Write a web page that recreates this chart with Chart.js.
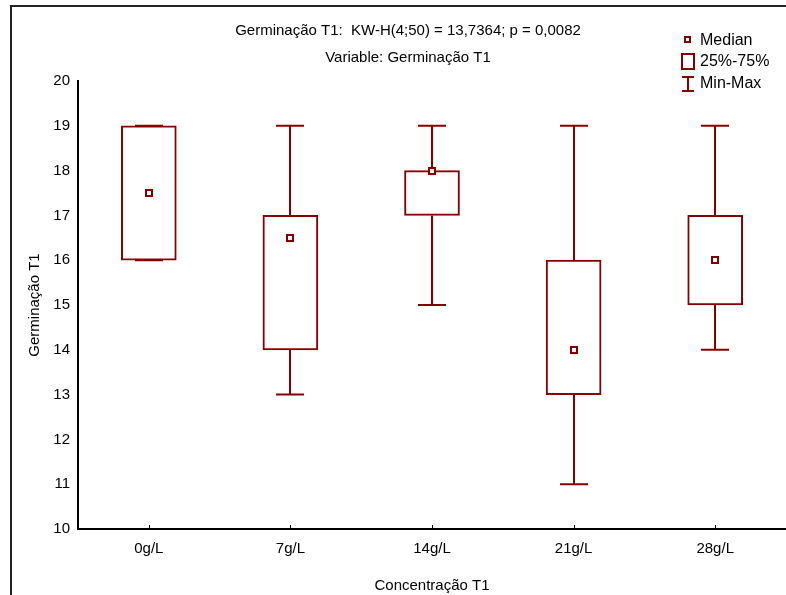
<!DOCTYPE html>
<html>
<head>
<meta charset="utf-8">
<script src="https://cdn.jsdelivr.net/npm/chart.js@4"></script>
<style>
  html, body { margin: 0; padding: 0; background: #fff; }
  #wrap { width: 786px; height: 595px; position: relative; }
</style>
</head>
<body>
<div id="wrap"><canvas id="boxChart" width="786" height="595"></canvas></div>
<script>
// Data
const categories = ['0g/L', '7g/L', '14g/L', '21g/L', '28g/L'];
const minValues = [16, 13, 15, 11, 14];
const q1Values = [16, 14, 17, 13, 15];
const medianValues = [17.5, 16.5, 18, 14, 16];
const q3Values = [19, 17, 18, 16, 17];
const maxValues = [19, 19, 19, 19, 19];

const red = '#850000';
const font = "'Liberation Sans', Arial, sans-serif";

// whiskers, medians, legend, titles and frame
const boxExtras = {
    id: 'boxExtras',
    beforeDatasetsDraw(chart) {
        const { ctx, scales: { x, y } } = chart;
        ctx.save();
        ctx.strokeStyle = red;
        ctx.lineWidth = 2;
        categories.forEach((c, i) => {
            const cx = Math.round(x.getPixelForValue(i));
            const yMin = y.getPixelForValue(minValues[i]);
            const yMax = y.getPixelForValue(maxValues[i]);
            const yQ1 = y.getPixelForValue(q1Values[i]);
            const yQ3 = y.getPixelForValue(q3Values[i]);
            ctx.beginPath();
            ctx.moveTo(cx, yMax); ctx.lineTo(cx, yQ3);
            ctx.moveTo(cx, yQ1); ctx.lineTo(cx, yMin);
            ctx.moveTo(cx - 14, yMax); ctx.lineTo(cx + 14, yMax);
            ctx.moveTo(cx - 14, yMin); ctx.lineTo(cx + 14, yMin);
            ctx.stroke();
        });
        ctx.restore();
    },
    afterDatasetsDraw(chart) {
        const { ctx, scales: { x, y } } = chart;
        ctx.save();
        ctx.strokeStyle = red;
        ctx.fillStyle = '#fff';
        ctx.lineWidth = 2;
        categories.forEach((c, i) => {
            const cx = Math.round(x.getPixelForValue(i));
            const cy = Math.round(y.getPixelForValue(medianValues[i]));
            ctx.fillRect(cx - 3, cy - 3, 6, 6);
            ctx.strokeRect(cx - 3, cy - 3, 6, 6);
        });

        // x tick marks pointing up
        ctx.strokeStyle = '#000';
        ctx.lineWidth = 1;
        categories.forEach((c, i) => {
            const cx = Math.round(x.getPixelForValue(i)) + 0.5;
            ctx.beginPath();
            ctx.moveTo(cx, y.bottom - 4); ctx.lineTo(cx, y.bottom);
            ctx.stroke();
        });

        // titles
        ctx.fillStyle = '#000';
        ctx.font = '15px ' + font;
        ctx.textAlign = 'center';
        ctx.textBaseline = 'middle';
        ctx.fillText('Germinação T1:  KW-H(4;50) = 13,7364; p = 0,0082', 408, 31);
        ctx.fillText('Variable: Germinação T1', 408, 58);

        // legend
        ctx.textAlign = 'left';
        ctx.font = '16px ' + font;
        ctx.fillText('Median', 700, 41);
        ctx.fillText('25%-75%', 700, 62);
        ctx.fillText('Min-Max', 700, 84);
        ctx.strokeStyle = red;
        ctx.lineWidth = 2;
        ctx.strokeRect(685, 37, 5, 5);
        ctx.strokeRect(682, 54, 12, 15);
        ctx.beginPath();
        ctx.moveTo(682, 77); ctx.lineTo(694, 77);
        ctx.moveTo(688, 77); ctx.lineTo(688, 91);
        ctx.moveTo(682, 91); ctx.lineTo(694, 91);
        ctx.stroke();

        // outer frame
        ctx.strokeStyle = '#222';
        ctx.lineWidth = 2;
        ctx.beginPath();
        ctx.moveTo(11, 600); ctx.lineTo(11, 6); ctx.lineTo(790, 6);
        ctx.stroke();
        ctx.restore();
    }
};

new Chart(document.getElementById('boxChart').getContext('2d'), {
    type: 'bar',
    data: {
        labels: categories,
        datasets: [{
            label: '25%-75%',
            data: q1Values.map((q1, i) => [q1, q3Values[i]]),
            backgroundColor: 'rgba(255,255,255,1)',
            borderColor: red,
            borderWidth: 2,
            borderSkipped: false,
            barThickness: 55
        }]
    },
    options: {
        responsive: false,
        animation: false,
        devicePixelRatio: 1,
        layout: { padding: { top: 81, left: 0, right: 0, bottom: 0 } },
        plugins: {
            legend: { display: false },
            tooltip: { enabled: false }
        },
        scales: {
            x: {
                grid: { display: false, drawTicks: false },
                border: { display: true, color: '#000', width: 2 },
                ticks: { color: '#000', padding: 11, font: { family: font, size: 15 } },
                title: {
                    display: true, text: 'Concentração T1', color: '#000',
                    font: { family: font, size: 15 }, padding: { top: 8, bottom: 0 }
                },
                afterFit: s => { s.height = 66; }
            },
            y: {
                min: 10,
                max: 20,
                grid: { display: false, drawTicks: false },
                border: { display: true, color: '#000', width: 2 },
                ticks: { stepSize: 1, color: '#000', padding: 8, font: { family: font, size: 15 } },
                title: {
                    display: true, text: 'Germinação T1', color: '#000',
                    font: { family: font, size: 15 }, padding: { top: 26, bottom: 0 }
                },
                afterFit: s => { s.width = 78; }
            }
        }
    },
    plugins: [boxExtras]
});
</script>
</body>
</html>
